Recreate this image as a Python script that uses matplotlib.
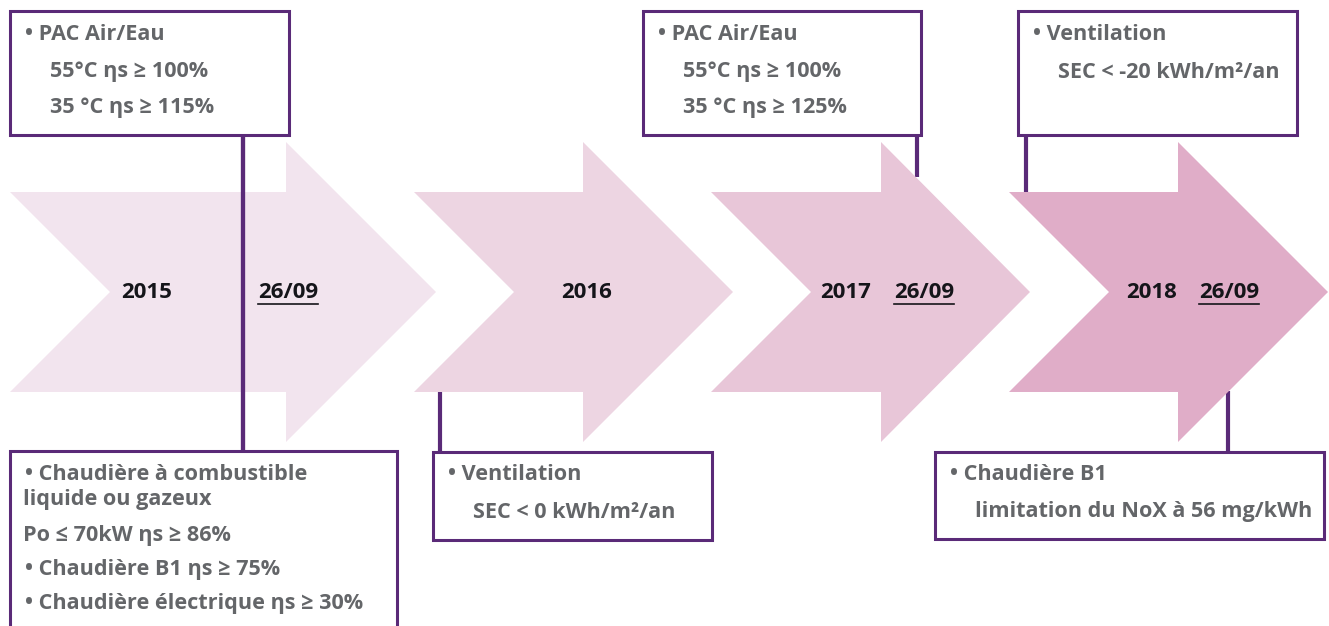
import matplotlib
matplotlib.use("Agg")
import matplotlib.pyplot as plt
from matplotlib.patches import Polygon, Rectangle

# ── Data ──────────────────────────────────────────────────────────────────────
YEARS = ["2015", "2016", "2017", "2018"]
DATES = ["26/09", "", "26/09", "26/09"]

BOX_TEXTS = [
    ["• PAC Air/Eau", "   55°C ηs ≥ 100%", "   35 °C ηs ≥ 115%"],
    ["• Chaudière à combustible", "liquide ou gazeux", "Po ≤ 70kW ηs ≥ 86%",
     "• Chaudière B1 ηs ≥ 75%", "• Chaudière électrique ηs ≥ 30%"],
    ["• Ventilation", "   SEC < 0 kWh/m²/an"],
    ["• PAC Air/Eau", "   55°C ηs ≥ 100%", "   35 °C ηs ≥ 125%"],
    ["• Ventilation", "   SEC < -20 kWh/m²/an"],
    ["• Chaudière B1", "   limitation du NoX à 56 mg/kWh"],
]

# ── Layout (pixels, y pointing down) ──────────────────────────────────────────
W, H = 1329, 626
ARROW_LEFT = [10, 414, 711, 1009]
ARROW_HEAD = [286, 583, 881, 1178]
ARROW_TIP  = [436, 733, 1030, 1328]
ARROW_COLORS = ["#F2E4EE", "#EDD5E2", "#E8C6D8", "#E0ADC8"]
MID, BODY, HEAD = 292, 100, 150
NOTCH = 100

YEAR_X = [147, 587, 846, 1152]
DATE_X = [288, None, 924, 1229]

# boxes: x0, x1, y0, y1, connector x, connector y-end, text lines y
BOXES = [
    (10, 289, 11, 135, 243, 451, [34, 72, 107]),
    (10, 397, 451, 640, 243, 135, [474, 500, 535, 569, 604]),
    (433, 712, 452, 540, 440, 391, [474, 512]),
    (643, 921, 11, 135, 917, 177, [34, 72, 107]),
    (1018, 1297, 11, 135, 1026, 192, [34, 72]),
    (935, 1324, 452, 539, 1228, 391, [474, 512]),
]

PURPLE = "#5A2A78"
GRAY = "#646669"
FONT = ["Open Sans", "DejaVu Sans"]
FS = 15.6

fig = plt.figure(figsize=(W / 100, H / 100), dpi=100)
ax = fig.add_axes([0, 0, 1, 1])
ax.set_xlim(0, W)
ax.set_ylim(H, 0)
ax.axis("off")

# arrows
for left, head, tip, col in zip(ARROW_LEFT, ARROW_HEAD, ARROW_TIP, ARROW_COLORS):
    pts = [
        (left, MID - BODY), (head, MID - BODY), (head, MID - HEAD),
        (tip, MID), (head, MID + HEAD), (head, MID + BODY),
        (left, MID + BODY), (left + NOTCH, MID),
    ]
    ax.add_patch(Polygon(pts, closed=True, facecolor=col, edgecolor="none", zorder=1))

# connectors and boxes
for (x0, x1, y0, y1, cx, cy, ys), lines in zip(BOXES, BOX_TEXTS):
    ystart = y1 if y0 < 200 else y0
    ax.plot([cx, cx], [ystart, cy], color=PURPLE, lw=3.0,
            solid_capstyle="butt", zorder=2 if cx == 243 else 0.5)
    ax.add_patch(Rectangle((x0, y0), x1 - x0, y1 - y0, facecolor="white",
                           edgecolor=PURPLE, lw=2.2, zorder=3))
    for txt, y in zip(lines, ys):
        if txt.startswith("•"):
            tx = x0 + 15
        elif txt.startswith("   "):
            tx = x0 + 40
            txt = txt.strip()
        else:
            tx = x0 + 13
        ax.text(tx, y, txt, fontsize=FS, fontweight="bold", color=GRAY,
                family=FONT, va="center", ha="left", zorder=4)

# year / date labels
fig.canvas.draw()
renderer = fig.canvas.get_renderer()
for year, date, yx, dx in zip(YEARS, DATES, YEAR_X, DATE_X):
    ax.text(yx, MID, year, fontsize=FS + 0.4, fontweight="bold", color="#15151A",
            family=FONT, va="center", ha="center", zorder=4)
    if date:
        t = ax.text(dx, MID, date, fontsize=FS + 0.4, fontweight="bold", color="#15151A",
                    family=FONT, va="center", ha="center", zorder=4)
        bb = t.get_window_extent(renderer).transformed(ax.transData.inverted())
        ax.plot([min(bb.x0, bb.x1), max(bb.x0, bb.x1)], [MID + 12, MID + 12],
                color="#15151A", lw=1.2, zorder=4)

fig.savefig("out.png", dpi=100)
